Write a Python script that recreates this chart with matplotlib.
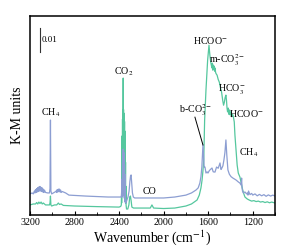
import matplotlib
matplotlib.use("Agg")
import matplotlib.pyplot as plt
from matplotlib.ticker import MultipleLocator

plt.rcParams['font.family'] = ['Liberation Serif', 'DejaVu Serif']
plt.rcParams['mathtext.fontset'] = 'stix'

# Blue spectrum: (wavenumber cm-1, K-M)
blue_points = [
    (3200, 0.0088), (3180, 0.0092), (3170, 0.0088), (3160, 0.0100), (3155, 0.0092), (3150, 0.0106),
    (3145, 0.0094), (3140, 0.0110), (3135, 0.0096), (3130, 0.0114), (3125, 0.0098), (3120, 0.0117),
    (3115, 0.0100), (3110, 0.0119), (3105, 0.0100), (3100, 0.0115), (3095, 0.0098), (3090, 0.0113),
    (3085, 0.0096), (3080, 0.0108), (3075, 0.0094), (3070, 0.0104), (3060, 0.0094), (3040, 0.0092),
    (3025, 0.0092), (3020, 0.0110), (3016, 0.0396), (3012, 0.0100), (3005, 0.0088), (2990, 0.0092),
    (2975, 0.0096), (2965, 0.0100), (2960, 0.0094), (2955, 0.0106), (2950, 0.0096), (2945, 0.0108),
    (2940, 0.0098), (2935, 0.0108), (2930, 0.0096), (2925, 0.0104), (2920, 0.0094), (2910, 0.0098),
    (2880, 0.0092), (2850, 0.0083), (2700, 0.0079), (2500, 0.0075), (2400, 0.0075), (2385, 0.0075),
    (2380, 0.0075), (2376, 0.0104), (2374, 0.0075), (2372, 0.0150), (2371, 0.0080), (2369, 0.0220),
    (2368, 0.0090), (2366, 0.0260), (2365, 0.0100), (2363, 0.0275), (2362, 0.0100), (2360, 0.0270),
    (2359, 0.0090), (2357, 0.0260), (2356, 0.0080), (2354, 0.0240), (2353, 0.0070), (2351, 0.0210),
    (2350, 0.0060), (2348, 0.0170), (2347, 0.0055), (2345, 0.0120), (2343, 0.0050), (2338, 0.0050),
    (2330, 0.0062), (2320, 0.0075), (2310, 0.0100), (2303, 0.0140), (2297, 0.0163), (2292, 0.0167),
    (2286, 0.0130), (2280, 0.0092), (2272, 0.0075), (2260, 0.0071), (2200, 0.0071), (2100, 0.0071),
    (2000, 0.0071), (1900, 0.0075), (1800, 0.0083), (1750, 0.0092), (1710, 0.0104), (1690, 0.0113),
    (1675, 0.0133), (1665, 0.0160), (1657, 0.0200), (1650, 0.0260), (1647, 0.0292), (1643, 0.0260),
    (1636, 0.0200), (1629, 0.0200), (1620, 0.0175), (1610, 0.0180), (1602, 0.0175), (1590, 0.0185),
    (1580, 0.0190), (1566, 0.0196), (1555, 0.0180), (1539, 0.0179), (1525, 0.0200), (1510, 0.0195),
    (1494, 0.0217), (1485, 0.0190), (1477, 0.0196), (1468, 0.0205), (1459, 0.0229), (1450, 0.0260),
    (1441, 0.0313), (1433, 0.0250), (1423, 0.0188), (1410, 0.0170), (1395, 0.0160), (1378, 0.0154),
    (1350, 0.0146), (1330, 0.0138), (1315, 0.0133), (1305, 0.0125), (1300, 0.0154), (1297, 0.0117),
    (1292, 0.0100), (1285, 0.0092), (1270, 0.0096), (1255, 0.0088), (1248, 0.0092), (1243, 0.0083),
    (1238, 0.0100), (1225, 0.0085), (1210, 0.0090), (1200, 0.0083), (1180, 0.0088), (1160, 0.0080),
    (1140, 0.0086), (1120, 0.0080), (1100, 0.0085), (1080, 0.0078), (1060, 0.0084), (1040, 0.0079),
    (1020, 0.0083), (1000, 0.0079),
]

# Green spectrum: (wavenumber cm-1, K-M)
green_points = [
    (3200, 0.0042), (3170, 0.0046), (3150, 0.0046), (3140, 0.0052), (3130, 0.0046), (3120, 0.0054),
    (3110, 0.0048), (3100, 0.0054), (3090, 0.0046), (3080, 0.0050), (3060, 0.0042), (3040, 0.0042),
    (3025, 0.0042), (3020, 0.0050), (3016, 0.0079), (3012, 0.0042), (3005, 0.00375), (2980, 0.0042),
    (2960, 0.0042), (2945, 0.0050), (2935, 0.0044), (2920, 0.0046), (2900, 0.0040), (2800, 0.00375),
    (2600, 0.0035), (2400, 0.0033), (2385, 0.0036), (2380, 0.0042), (2378, 0.0080), (2377, 0.0050),
    (2375, 0.0200), (2374, 0.0080), (2372, 0.0330), (2371, 0.0100), (2369, 0.0400), (2368, 0.0120),
    (2366, 0.0420), (2365, 0.0150), (2363, 0.0571), (2362, 0.0150), (2360, 0.0440), (2359, 0.0130),
    (2357, 0.0425), (2356, 0.0120), (2354, 0.0410), (2353, 0.0100), (2351, 0.0390), (2350, 0.0090),
    (2348, 0.0350), (2347, 0.0080), (2345, 0.0300), (2344, 0.0060), (2342, 0.0220), (2341, 0.0050),
    (2339, 0.0120), (2337, 0.0040), (2333, 0.0025), (2322, 0.0025), (2312, 0.0042), (2304, 0.0075),
    (2298, 0.0079), (2292, 0.0060), (2285, 0.0033), (2270, 0.0029), (2200, 0.0029), (2120, 0.0029),
    (2105, 0.0042), (2090, 0.0029), (2000, 0.0027), (1900, 0.0029), (1800, 0.00375), (1750, 0.0046),
    (1700, 0.00625), (1680, 0.0083), (1665, 0.0113), (1655, 0.0146), (1648, 0.0180), (1640, 0.0229),
    (1632, 0.0396), (1620, 0.0521), (1605, 0.0646), (1593, 0.0708), (1585, 0.0667), (1578, 0.0640),
    (1572, 0.0625), (1566, 0.0613), (1562, 0.0633), (1558, 0.0604), (1554, 0.0625), (1550, 0.0610),
    (1546, 0.0621), (1542, 0.0600), (1538, 0.0613), (1534, 0.0596), (1530, 0.0590), (1520, 0.0583),
    (1510, 0.0565), (1500, 0.0554), (1490, 0.0530), (1480, 0.0513), (1470, 0.0479), (1462, 0.0458),
    (1455, 0.0470), (1448, 0.0490), (1441, 0.0500), (1436, 0.0479), (1431, 0.0446), (1426, 0.0430),
    (1420, 0.0446), (1414, 0.0420), (1408, 0.0438), (1402, 0.0417), (1396, 0.0430), (1390, 0.0410),
    (1384, 0.0420), (1378, 0.0417), (1372, 0.0404), (1366, 0.0388), (1360, 0.0333), (1350, 0.0271),
    (1340, 0.0208), (1330, 0.0175), (1315, 0.0158), (1300, 0.0125), (1290, 0.0104), (1280, 0.0088),
    (1270, 0.0075), (1250, 0.0067), (1230, 0.0062), (1210, 0.0058), (1190, 0.0060), (1170, 0.0056),
    (1150, 0.0058), (1130, 0.0054), (1110, 0.0056), (1090, 0.0052), (1070, 0.0055), (1050, 0.0051),
    (1030, 0.0054), (1000, 0.0050),
]

xticks = [3200, 2800, 2400, 2000, 1600, 1200]

blue_color = '#8C9ED2'
green_color = '#55C79E'

fig = plt.figure(figsize=(2.88, 2.46), dpi=100)
ax = fig.add_axes([0.104, 0.126, 0.851, 0.809])

bw, bv = zip(*blue_points)
gw, gv = zip(*green_points)
ax.plot(gw, gv, color=green_color, lw=0.9)
ax.plot(bw, bv, color=blue_color, lw=0.9)

ax.set_xlim(3200, 1000)
ax.set_ylim(0, 0.083)
ax.set_xticks(xticks)
ax.xaxis.set_minor_locator(MultipleLocator(200))
ax.set_yticks([])
ax.tick_params(axis='x', which='both', direction='in', labelsize=7.2, pad=2)
ax.tick_params(axis='x', which='major', length=3, width=0.8)
ax.tick_params(axis='x', which='minor', length=2, width=0.6)
for s in ax.spines.values():
    s.set_linewidth(1.1)

ax.set_xlabel('Wavenumber (cm$^{-1}$)', fontsize=10, labelpad=1)
ax.set_ylabel('K-M units', fontsize=10, labelpad=4)

# scale bar
ax.plot([3110, 3110], [0.0679, 0.0779], color='#333333', lw=0.8)
ax.text(3095, 0.0729, '0.01', fontsize=6.5, ha='left', va='center')

fs = 7.2
ax.text(3011, 0.0425, 'CH$_4$', fontsize=fs, ha='center', va='center')
ax.text(2356, 0.0596, 'CO$_2$', fontsize=fs, ha='center', va='center')
ax.text(2123, 0.0100, 'CO', fontsize=fs, ha='center', va='center')
ax.text(1584, 0.0729, 'HCOO$^{-}$', fontsize=fs, ha='center', va='center')
ax.text(1432, 0.0646, 'm-CO$_3^{2-}$', fontsize=fs, ha='center', va='center')
ax.text(1387, 0.0525, 'HCO$_3^{-}$', fontsize=fs, ha='center', va='center')
ax.text(1261, 0.0425, 'HCOO$^{-}$', fontsize=fs, ha='center', va='center')
ax.text(1234, 0.0258, 'CH$_4$', fontsize=fs, ha='center', va='center')
ax.text(1710, 0.0438, 'b-CO$_3^{2-}$', fontsize=fs, ha='center', va='center')
ax.plot([1719, 1647], [0.0408, 0.0292], color='black', lw=0.7)

fig.savefig('out.png', dpi=100)
